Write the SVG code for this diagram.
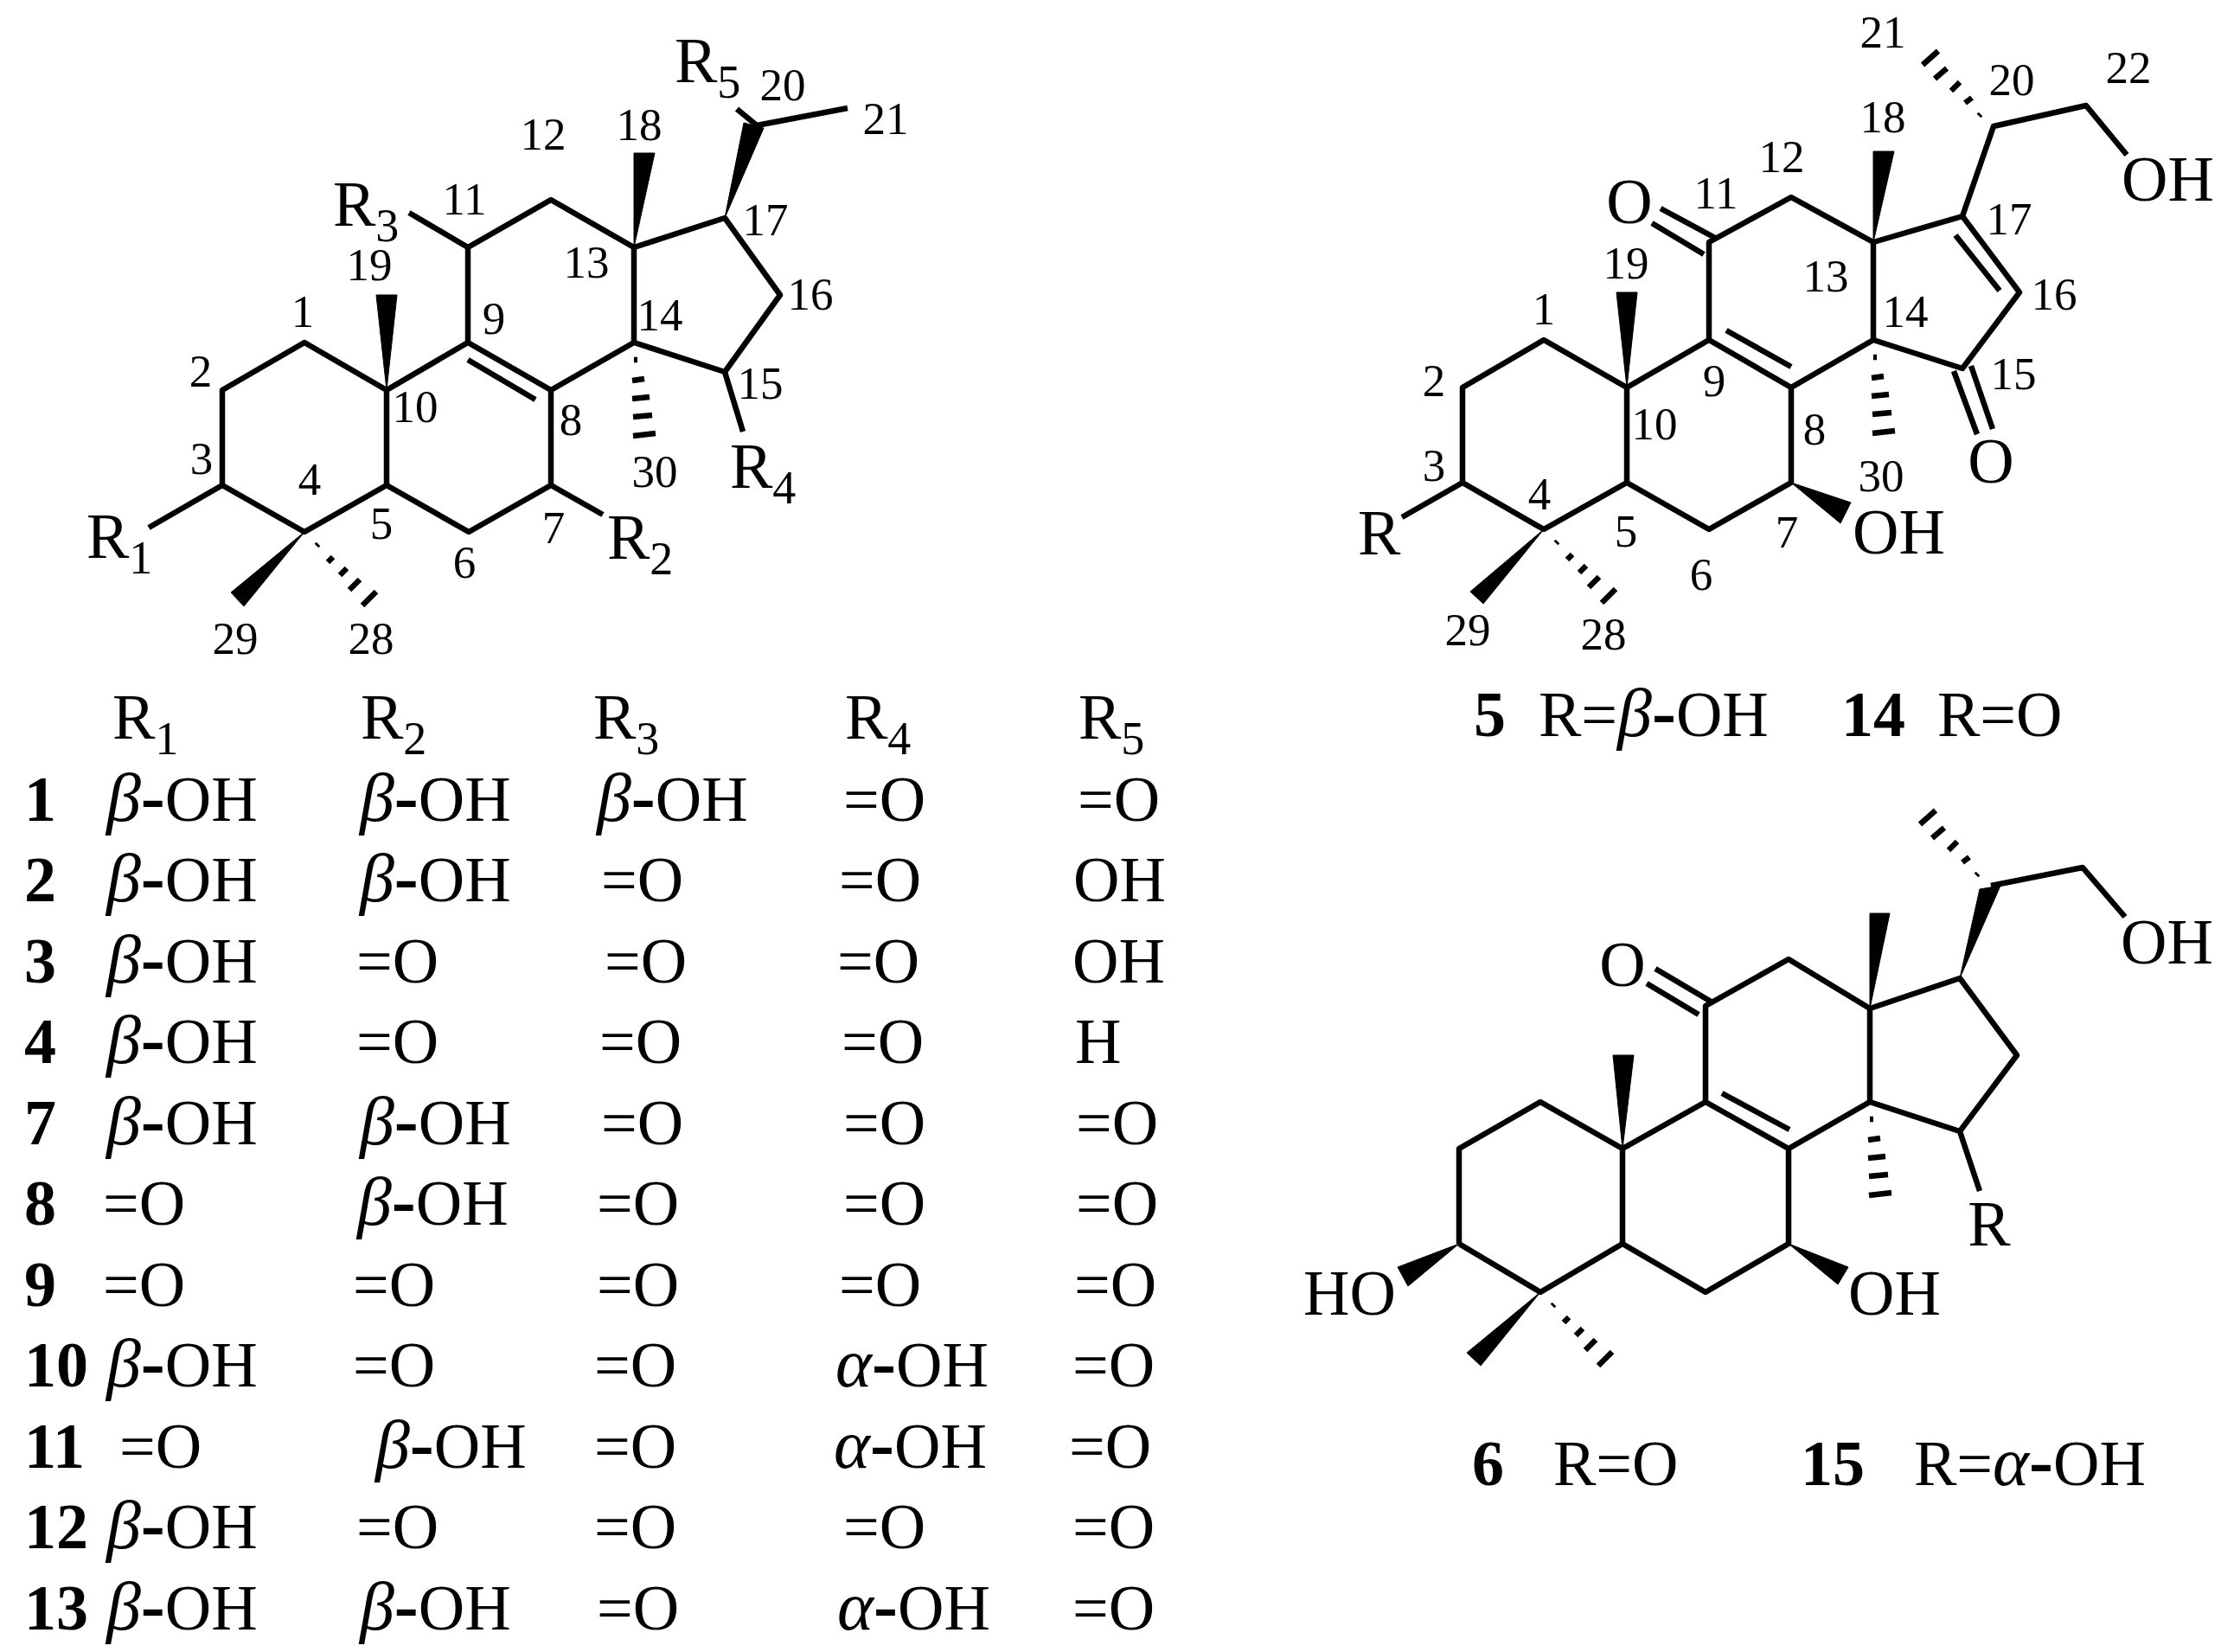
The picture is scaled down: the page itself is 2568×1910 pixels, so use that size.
<svg xmlns="http://www.w3.org/2000/svg" xmlns:xlink="http://www.w3.org/1999/xlink" width="2568" height="1910" viewBox="0 0 2568 1910">
<style>
text{font-family:"Liberation Serif","Times New Roman",serif;fill:#000}
.n{font-size:53px;text-anchor:middle}
.b{font-size:74px}
.c{text-anchor:middle}
.s{font-size:54px}
.i{font-style:italic;font-size:80px}
.h{font-weight:bold}
tspan.h{font-size:84px}
.bond{fill:none;stroke:#000;stroke-width:6.5;stroke-linejoin:round;stroke-linecap:butt}
.w{fill:#000;stroke:#000;stroke-width:1;stroke-linejoin:miter}
</style>
<defs>
<path id="hash28" class="bond" d="M14,16L16,14M27,35L33,29M41,50L49,42M52,67L64,55M67,85L83,69"/>
<path id="hash30" class="bond" d="M0,20L4,20M-2,44L12,42M-2,65L18,63M-1,86L21,84M-1,108L25,105"/>
<path id="hash21" class="bond" d="M-17,-12L-15,-14M-33,-27L-25,-33M-49,-41L-39,-51M-68,-55L-54,-67M-82,-71L-64,-87"/>
</defs>
<rect width="2568" height="1910" fill="#fff"/>

<g id="scaffold-r1-r5">
<path class="bond" d="M172,610L257,561L257,451L352,396L447,451L541,396L637,451L637,561L542,615L447,561L447,451M257,561L352,615L447,561M541,396L541,286L637,231L733,286L733,396L637,451M733,396L838,430L902,341L838,252L733,286M541,286L473,246M637,561L697,595M838,430L859,499M852,126L875,145L980,125M541,416L619,462"/>
<polygon class="w" points="447,451 435,341 459,341"/>
<polygon class="w" points="733,286 733,177 757,177"/>
<polygon class="w" points="838,252 860,142 883,148"/>
<polygon class="w" points="352,615 267,685 282,701"/>
<use xlink:href="#hash28" href="#hash28" x="352" y="615"/>
<use xlink:href="#hash30" href="#hash30" x="733" y="396"/>
<g transform="translate(0,-4)">
<text class="n" x="350" y="382">1</text><text class="n" x="232" y="451">2</text><text class="n" x="233" y="552">3</text><text class="n" x="358" y="576">4</text><text class="n" x="441" y="627">5</text><text class="n" x="537" y="672">6</text><text class="n" x="640" y="632">7</text><text class="n" x="660" y="507">8</text><text class="n" x="571" y="390">9</text><text class="n" x="480" y="492">10</text><text class="n" x="537" y="252">11</text><text class="n" x="628" y="177">12</text><text class="n" x="678" y="325">13</text><text class="n" x="763" y="386">14</text><text class="n" x="879" y="465">15</text><text class="n" x="937" y="362">16</text><text class="n" x="885" y="276">17</text><text class="n" x="739" y="166">18</text><text class="n" x="427" y="328">19</text><text class="n" x="905" y="120">20</text><text class="n" x="1024" y="159">21</text><text class="n" x="429" y="760">28</text><text class="n" x="272" y="760">29</text><text class="n" x="757" y="567">30</text>
</g>
<text class="b" x="100" y="645">R<tspan class="s" dy="18">1</tspan></text>
<text class="b" x="702" y="646">R<tspan class="s" dy="18">2</tspan></text>
<text class="b" x="385" y="261">R<tspan class="s" dy="18">3</tspan></text>
<text class="b" x="844" y="564">R<tspan class="s" dy="18">4</tspan></text>
<text class="b" x="780" y="95">R<tspan class="s" dy="18">5</tspan></text>
</g>

<g id="compound-5-14">
<path class="bond" d="M1621,598L1691,558L1691,448L1785,393L1881,448L1976,393L2071,448L2071,558L1976,612L1881,558L1881,448M1691,558L1785,612L1881,558M1976,393L1976,280L2071,228L2166,280L2166,393L2071,448M2166,393L2269,426L2335,338L2269,250L2166,280M2269,250L2305,146L2412,122L2459,179M1996,382L2071,424M2261,272L2312,336M1920,241L1985,276M1910,258L1970,294M2259,429L2286,502M2279,423L2304,496"/>
<polygon class="w" points="1881,448 1869,338 1893,338"/>
<polygon class="w" points="2166,280 2166,175 2190,175"/>
<polygon class="w" points="2071,558 2140,581 2128,605"/>
<polygon class="w" points="1785,612 1700,684 1715,698"/>
<use xlink:href="#hash28" href="#hash28" x="1785" y="612"/>
<use xlink:href="#hash30" href="#hash30" x="2166" y="393"/>
<use xlink:href="#hash21" href="#hash21" x="2305" y="146"/>
<text class="n" x="2177" y="55">21</text><text class="n" x="2326" y="110">20</text><text class="n" x="2461" y="96">22</text><text class="n" x="2177" y="153">18</text><text class="n" x="2060" y="199">12</text><text class="n" x="1984" y="241">11</text><text class="n" x="1880" y="322">19</text><text class="n" x="1785" y="375">1</text><text class="n" x="1658" y="458">2</text><text class="n" x="1658" y="556">3</text><text class="n" x="1780" y="589">4</text><text class="n" x="1880" y="632">5</text><text class="n" x="1967" y="682">6</text><text class="n" x="2066" y="633">7</text><text class="n" x="2098" y="514">8</text><text class="n" x="1982" y="458">9</text><text class="n" x="1913" y="508">10</text><text class="n" x="2111" y="337">13</text><text class="n" x="2203" y="378">14</text><text class="n" x="2328" y="450">15</text><text class="n" x="2375" y="358">16</text><text class="n" x="2323" y="271">17</text><text class="n" x="1854" y="751">28</text><text class="n" x="1697" y="746">29</text><text class="n" x="2175" y="568">30</text>
<text class="b c" x="1884" y="258">O</text><text class="b" x="2453" y="232">OH</text><text class="b c" x="2302" y="558">O</text><text class="b" x="2142" y="640">OH</text><text class="b" x="1570" y="641">R</text>
<text class="b h" x="1704" y="851">5</text><text class="b" x="1779" y="851">R=<tspan class="i">β</tspan><tspan class="h">-</tspan>OH</text>
<text class="b h" x="2129" y="851">14</text><text class="b" x="2240" y="851">R=O</text>
</g>

<g id="compound-6-15">
<path class="bond" d="M1687,1438L1687,1328L1781,1274L1876,1328L1972,1274L2068,1328L2068,1438L1972,1494L1876,1438L1876,1328M1687,1438L1781,1494L1876,1438M1972,1274L1972,1163L2068,1109L2162,1166L2162,1274L2068,1328M2162,1274L2266,1308L2332,1220L2266,1131L2162,1166M2302,1024L2408,1003L2457,1060M2266,1308L2289,1377M1991,1264L2069,1306M1914,1120L1980,1159M1904,1137L1964,1173"/>
<polygon class="w" points="1876,1328 1865,1220 1889,1220"/>
<polygon class="w" points="2162,1166 2162,1056 2185,1056"/>
<polygon class="w" points="2266,1131 2289,1028 2313,1024"/>
<polygon class="w" points="2068,1438 2137,1465 2125,1485"/>
<polygon class="w" points="1687,1438 1616,1465 1628,1487"/>
<polygon class="w" points="1781,1494 1696,1564 1712,1579"/>
<use xlink:href="#hash28" href="#hash28" x="1781" y="1494"/>
<use xlink:href="#hash30" href="#hash30" x="2162" y="1274"/>
<use xlink:href="#hash21" href="#hash21" x="2302" y="1024"/>
<text class="b c" x="1876" y="1140">O</text><text class="b" x="2452" y="1114">OH</text><text class="b c" x="2300" y="1440">R</text><text class="b" x="1507" y="1520">HO</text><text class="b" x="2137" y="1520">OH</text>
<text class="b h" x="1702" y="1717">6</text><text class="b" x="1796" y="1717">R=O</text>
<text class="b h" x="2082" y="1717">15</text><text class="b" x="2213" y="1717">R=<tspan class="i">α</tspan><tspan class="h">-</tspan>OH</text>
</g>

<g id="table" transform="translate(-3,-3)">
<text class="b" x="133" y="857">R<tspan class="s" dy="18">1</tspan></text><text class="b" x="420" y="857">R<tspan class="s" dy="18">2</tspan></text><text class="b" x="689" y="857">R<tspan class="s" dy="18">3</tspan></text><text class="b" x="980" y="857">R<tspan class="s" dy="18">4</tspan></text><text class="b" x="1250" y="857">R<tspan class="s" dy="18">5</tspan></text>

<text class="b h" x="31" y="952">1</text><text class="b" x="126" y="952"><tspan class="i">β</tspan><tspan class="h">-</tspan>OH</text><text class="b" x="419" y="952"><tspan class="i">β</tspan><tspan class="h">-</tspan>OH</text><text class="b" x="693" y="952"><tspan class="i">β</tspan><tspan class="h">-</tspan>OH</text><text class="b" x="978" y="952">=O</text><text class="b" x="1249" y="952">=O</text>

<text class="b h" x="31" y="1045">2</text><text class="b" x="126" y="1045"><tspan class="i">β</tspan><tspan class="h">-</tspan>OH</text><text class="b" x="419" y="1045"><tspan class="i">β</tspan><tspan class="h">-</tspan>OH</text><text class="b" x="698" y="1045">=O</text><text class="b" x="973" y="1045">=O</text><text class="b" x="1244" y="1045">OH</text>

<text class="b h" x="31" y="1139">3</text><text class="b" x="126" y="1139"><tspan class="i">β</tspan><tspan class="h">-</tspan>OH</text><text class="b" x="415" y="1139">=O</text><text class="b" x="702" y="1139">=O</text><text class="b" x="971" y="1139">=O</text><text class="b" x="1243" y="1139">OH</text>

<text class="b h" x="31" y="1232">4</text><text class="b" x="126" y="1232"><tspan class="i">β</tspan><tspan class="h">-</tspan>OH</text><text class="b" x="415" y="1232">=O</text><text class="b" x="696" y="1232">=O</text><text class="b" x="976" y="1232">=O</text><text class="b" x="1246" y="1232">H</text>

<text class="b h" x="31" y="1326">7</text><text class="b" x="126" y="1326"><tspan class="i">β</tspan><tspan class="h">-</tspan>OH</text><text class="b" x="419" y="1326"><tspan class="i">β</tspan><tspan class="h">-</tspan>OH</text><text class="b" x="698" y="1326">=O</text><text class="b" x="978" y="1326">=O</text><text class="b" x="1247" y="1326">=O</text>

<text class="b h" x="31" y="1419">8</text><text class="b" x="122" y="1419">=O</text><text class="b" x="416" y="1419"><tspan class="i">β</tspan><tspan class="h">-</tspan>OH</text><text class="b" x="693" y="1419">=O</text><text class="b" x="978" y="1419">=O</text><text class="b" x="1247" y="1419">=O</text>

<text class="b h" x="31" y="1513">9</text><text class="b" x="122" y="1513">=O</text><text class="b" x="411" y="1513">=O</text><text class="b" x="693" y="1513">=O</text><text class="b" x="973" y="1513">=O</text><text class="b" x="1245" y="1513">=O</text>

<text class="b h" x="31" y="1606">10</text><text class="b" x="126" y="1606"><tspan class="i">β</tspan><tspan class="h">-</tspan>OH</text><text class="b" x="411" y="1606">=O</text><text class="b" x="690" y="1606">=O</text><text class="b" x="969" y="1606"><tspan class="i">α</tspan><tspan class="h">-</tspan>OH</text><text class="b" x="1243" y="1606">=O</text>

<text class="b h" x="31" y="1700">11</text><text class="b" x="141" y="1700">=O</text><text class="b" x="437" y="1700"><tspan class="i">β</tspan><tspan class="h">-</tspan>OH</text><text class="b" x="690" y="1700">=O</text><text class="b" x="967" y="1700"><tspan class="i">α</tspan><tspan class="h">-</tspan>OH</text><text class="b" x="1239" y="1700">=O</text>

<text class="b h" x="31" y="1793">12</text><text class="b" x="126" y="1793"><tspan class="i">β</tspan><tspan class="h">-</tspan>OH</text><text class="b" x="415" y="1793">=O</text><text class="b" x="690" y="1793">=O</text><text class="b" x="978" y="1793">=O</text><text class="b" x="1243" y="1793">=O</text>

<text class="b h" x="31" y="1887">13</text><text class="b" x="126" y="1887"><tspan class="i">β</tspan><tspan class="h">-</tspan>OH</text><text class="b" x="419" y="1887"><tspan class="i">β</tspan><tspan class="h">-</tspan>OH</text><text class="b" x="693" y="1887">=O</text><text class="b" x="971" y="1887"><tspan class="i">α</tspan><tspan class="h">-</tspan>OH</text><text class="b" x="1243" y="1887">=O</text>
</g>
</svg>
